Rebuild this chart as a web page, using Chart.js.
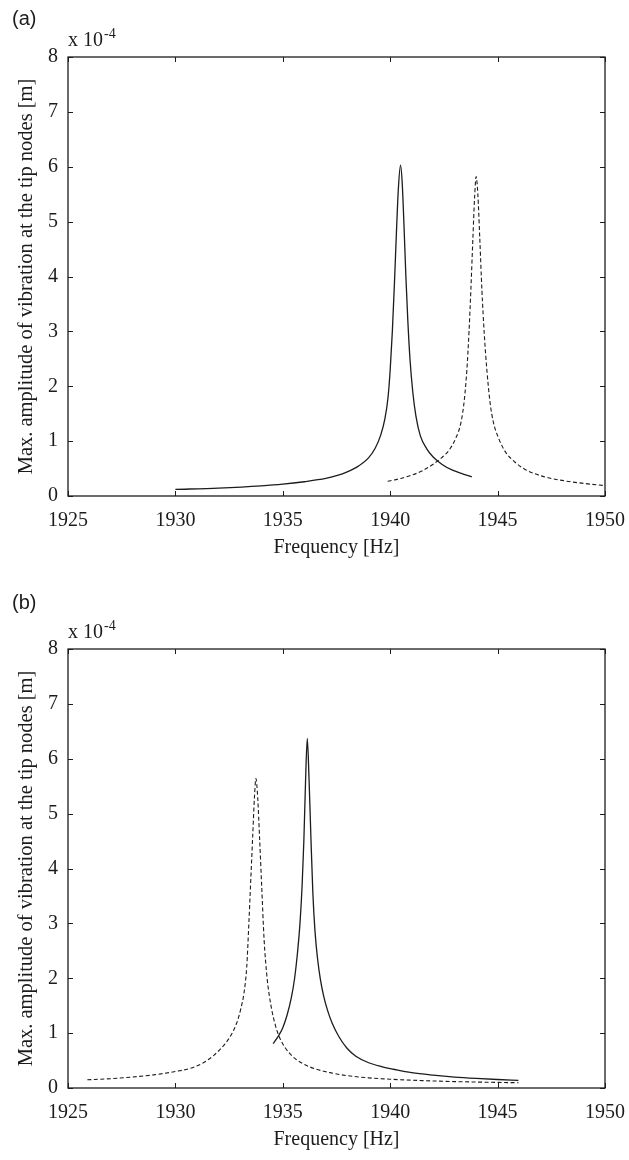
<!DOCTYPE html>
<html>
<head>
<meta charset="utf-8">
<script src="https://cdn.jsdelivr.net/npm/chart.js@4.4.1/dist/chart.umd.min.js"></script>
<style>
  body { margin: 0; background: #fff; }
  canvas { position: absolute; left: 0; }
  #chartA { top: 0; }
  #chartB { top: 592px; }
</style>
</head>
<body>
<canvas id="chartA" width="629" height="592"></canvas>
<canvas id="chartB" width="629" height="568"></canvas>
<script>
// axis ticks
const freqTicks = [1925, 1930, 1935, 1940, 1945, 1950];
const ampTicks = [0, 1, 2, 3, 4, 5, 6, 7, 8];

// (a) solid curve, amplitude in units of 1e-4 m
const freqA1 = [1930, 1932, 1934, 1935, 1936, 1937, 1937.5, 1938, 1938.5, 1939, 1939.3, 1939.55, 1939.75, 1939.9, 1940.0, 1940.1, 1940.2, 1940.3, 1940.38, 1940.48,
    1940.56, 1940.64, 1940.73, 1940.82, 1940.92, 1941.05, 1941.2, 1941.4, 1941.7, 1942.0, 1942.4, 1942.9, 1943.4, 1943.8];
const ampA1 = [0.12, 0.145, 0.185, 0.215, 0.26, 0.32, 0.37, 0.44, 0.54, 0.7, 0.87, 1.1, 1.4, 1.8, 2.3, 3.0, 3.9, 4.9, 5.6, 6.03,
    5.7, 4.95, 4.0, 3.2, 2.5, 1.9, 1.45, 1.1, 0.86, 0.71, 0.58, 0.47, 0.4, 0.35];

// (a) dashed curve
const freqA2 = [1939.88, 1940.5, 1941.0, 1941.5, 1942.0, 1942.4, 1942.75, 1943.05, 1943.3, 1943.45, 1943.57, 1943.67, 1943.76, 1943.85, 1943.93, 1944.0,
    1944.08, 1944.17, 1944.27, 1944.38, 1944.5, 1944.65, 1944.8, 1945.05, 1945.37, 1945.8, 1946.3, 1947.0, 1947.9, 1949.0, 1950];
const ampA2 = [0.27, 0.32, 0.38, 0.46, 0.58, 0.7, 0.84, 1.05, 1.35, 1.75, 2.3, 3.0, 3.8, 4.7, 5.45, 5.82,
    5.5, 4.7, 3.75, 2.95, 2.3, 1.7, 1.35, 1.05, 0.8, 0.62, 0.48, 0.37, 0.29, 0.23, 0.19];

// (b) solid curve
const freqB1 = [1934.55, 1934.8, 1935.0, 1935.2, 1935.4, 1935.55, 1935.68, 1935.8, 1935.9, 1935.98, 1936.06, 1936.14,
    1936.22, 1936.31, 1936.4, 1936.5, 1936.62, 1936.75, 1936.9, 1937.08, 1937.3, 1937.62, 1938.0, 1938.4, 1939.0, 1939.6, 1940.3, 1941.0, 1942.0, 1943.0, 1944.0, 1945.0, 1945.97];
const ampB1 = [0.81, 0.95, 1.1, 1.33, 1.65, 2.0, 2.45, 3.0, 3.7, 4.5, 5.6, 6.37,
    5.65, 4.55, 3.55, 2.85, 2.35, 1.98, 1.68, 1.42, 1.18, 0.93, 0.72, 0.58, 0.46, 0.39, 0.33, 0.28, 0.235, 0.2, 0.175, 0.155, 0.14];

// (b) dashed curve
const freqB2 = [1925.9, 1927, 1928, 1929, 1930, 1930.7, 1931.3, 1931.8, 1932.3, 1932.6, 1932.85, 1933.05, 1933.2, 1933.32, 1933.42, 1933.51, 1933.6, 1933.68, 1933.75,
    1933.83, 1933.92, 1934.02, 1934.13, 1934.27, 1934.45, 1934.65, 1934.85, 1935.1, 1935.5, 1935.95, 1936.5, 1937.2, 1938.0, 1939.0, 1940.0, 1941.5, 1943.0, 1944.5, 1945.97];
const ampB2 = [0.15, 0.17, 0.2, 0.24, 0.3, 0.36, 0.46, 0.6, 0.8, 0.97, 1.18, 1.45, 1.75, 2.2, 3.0, 3.8, 4.6, 5.3, 5.64,
    5.3, 4.55, 3.65, 2.7, 2.0, 1.5, 1.15, 0.92, 0.74, 0.56, 0.44, 0.35, 0.28, 0.225, 0.185, 0.16, 0.135, 0.117, 0.105, 0.096];

const serif = "'Liberation Serif', 'Times New Roman', serif";
const ink = '#1c1c1c';

function toPoints(xs, ys) {
    return xs.map((x, i) => ({ x: x, y: ys[i] }));
}

// box around the plot with inward ticks, panel tag and exponent note
const framePlugin = {
    id: 'frame',
    afterDraw(chart, args, opts) {
        const ctx = chart.ctx;
        const a = chart.chartArea;
        const xs = chart.scales.x;
        const ys = chart.scales.y;
        const tl = 5;
        ctx.save();
        ctx.strokeStyle = ink;
        ctx.lineWidth = 1.3;
        ctx.strokeRect(a.left, a.top, a.right - a.left, a.bottom - a.top);
        ctx.lineWidth = 1;
        ctx.beginPath();
        freqTicks.forEach(v => {
            const px = Math.round(xs.getPixelForValue(v)) + 0.5;
            ctx.moveTo(px, a.bottom); ctx.lineTo(px, a.bottom - tl);
            ctx.moveTo(px, a.top); ctx.lineTo(px, a.top + tl);
        });
        ampTicks.forEach(v => {
            const py = Math.round(ys.getPixelForValue(v)) + 0.5;
            ctx.moveTo(a.left, py); ctx.lineTo(a.left + tl, py);
            ctx.moveTo(a.right, py); ctx.lineTo(a.right - tl, py);
        });
        ctx.stroke();

        ctx.fillStyle = ink;
        ctx.textBaseline = 'alphabetic';
        ctx.textAlign = 'left';
        ctx.font = "20px 'Liberation Sans', Arial, sans-serif";
        ctx.fillText(opts.tag, 12, opts.tagY);

        ctx.font = '20px ' + serif;
        const base = a.top - 11;
        ctx.fillText('x 10', a.left, base);
        const w = ctx.measureText('x 10').width;
        ctx.font = '14px ' + serif;
        ctx.fillText('-4', a.left + w + 1, base - 8);
        ctx.restore();
    }
};

function drawPanel(id, tag, tagY, bottomPad, solidX, solidY, dashX, dashY) {
    const ctx = document.getElementById(id).getContext('2d');
    return new Chart(ctx, {
        type: 'scatter',
        data: {
            datasets: [{
                data: toPoints(solidX, solidY),
                showLine: true,
                borderColor: ink,
                borderWidth: 1.3,
                cubicInterpolationMode: 'monotone',
                pointRadius: 0
            }, {
                data: toPoints(dashX, dashY),
                showLine: true,
                borderColor: ink,
                borderWidth: 1.1,
                borderDash: [4, 2.5],
                cubicInterpolationMode: 'monotone',
                pointRadius: 0
            }]
        },
        options: {
            responsive: false,
            animation: false,
            devicePixelRatio: 1,
            layout: { padding: { top: 57, right: 24, left: 0, bottom: bottomPad } },
            plugins: {
                legend: { display: false },
                tooltip: { enabled: false },
                frame: { tag: tag, tagY: tagY }
            },
            scales: {
                x: {
                    type: 'linear',
                    min: 1925,
                    max: 1950,
                    afterBuildTicks: s => { s.ticks = freqTicks.map(v => ({ value: v })); },
                    afterFit: s => { s.height = 70; s.paddingLeft = 0; s.paddingRight = 0; },
                    ticks: {
                        color: ink,
                        font: { family: serif, size: 20 },
                        padding: 13,
                        maxRotation: 0,
                        callback: v => String(v)
                    },
                    grid: { display: false, drawTicks: false },
                    border: { display: false },
                    title: {
                        display: true,
                        text: 'Frequency [Hz]',
                        color: ink,
                        font: { family: serif, size: 20 },
                        padding: { top: 0, bottom: 6 }
                    }
                },
                y: {
                    min: 0,
                    max: 8,
                    afterBuildTicks: s => { s.ticks = ampTicks.map(v => ({ value: v })); },
                    afterFit: s => { s.width = 68; s.paddingTop = 0; s.paddingBottom = 0; },
                    ticks: {
                        color: ink,
                        font: { family: serif, size: 20 },
                        padding: 10,
                        callback: v => String(v)
                    },
                    grid: { display: false, drawTicks: false },
                    border: { display: false },
                    title: {
                        display: true,
                        text: 'Max. amplitude of vibration at the tip nodes [m]',
                        color: ink,
                        font: { family: serif, size: 20.5 },
                        padding: { top: 14, bottom: 0 }
                    }
                }
            }
        },
        plugins: [framePlugin]
    });
}

drawPanel('chartA', '(a)', 25, 26, freqA1, ampA1, freqA2, ampA2);
drawPanel('chartB', '(b)', 17, 2, freqB1, ampB1, freqB2, ampB2);
</script>
</body>
</html>
